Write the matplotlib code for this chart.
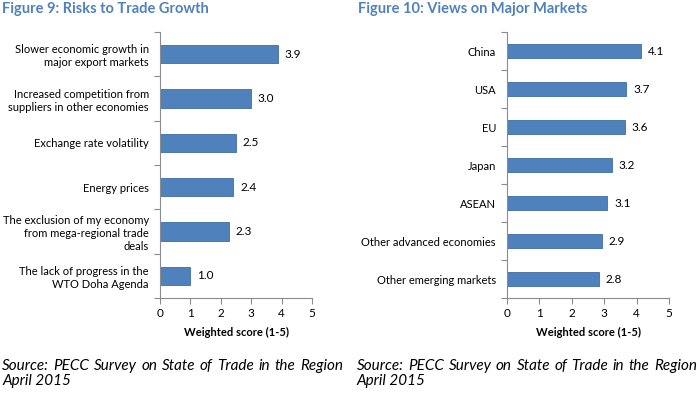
import matplotlib
matplotlib.use('Agg')
import matplotlib.pyplot as plt
import numpy as np

plt.rcParams['font.family'] = ['Lato', 'DejaVu Sans']

# Figure 9 data
risks = ['Slower economic growth in\nmajor export markets',
         'Increased competition from\nsuppliers in other economies',
         'Exchange rate volatility',
         'Energy prices',
         'The exclusion of my economy\nfrom mega-regional trade\ndeals',
         'The lack of progress in the\nWTO Doha Agenda']
risk_scores = [3.87, 2.98, 2.50, 2.41, 2.26, 0.99]

# Figure 10 data
markets = ['China', 'USA', 'EU', 'Japan', 'ASEAN',
           'Other advanced economies', 'Other emerging markets']
market_scores = [4.14, 3.68, 3.64, 3.24, 3.10, 2.93, 2.84]

titles = ['Figure 9: Risks to Trade Growth', 'Figure 10: Views on Major Markets']
source = 'Source: PECC Survey on State of Trade in the Region'
source2 = 'April 2015'
xticks = [0, 1, 2, 3, 4, 5]

W, H = 700, 394
fig = plt.figure(figsize=(W / 100, H / 100), dpi=100)

bar_col = '#4F81BD'
edge_col = '#3F6DA8'
axis_col = '#8C8C8C'
title_col = '#4F81BD'


def hbar(ax, cats, vals, h):
    y = np.arange(len(cats))
    bars = ax.barh(y, vals, height=h, color=bar_col, edgecolor=edge_col, linewidth=0.6)
    ax.set_xlim(0, 5)
    ax.set_ylim(len(cats) - 0.5, -0.5)
    ax.set_yticks(y)
    ax.set_yticklabels(cats, fontsize=8, ha='right', linespacing=1.25)
    ax.set_yticks(np.arange(len(cats) + 1) - 0.5, minor=True)
    ax.tick_params(axis='y', which='major', length=0, pad=8)
    ax.tick_params(axis='y', which='minor', length=4, color=axis_col, width=0.8)
    ax.set_xticks(xticks)
    ax.tick_params(axis='x', length=4, color=axis_col, width=0.8, labelsize=8.5, pad=3)
    for s in ['top', 'right']:
        ax.spines[s].set_visible(False)
    for s in ['left', 'bottom']:
        ax.spines[s].set_color(axis_col)
        ax.spines[s].set_linewidth(0.8)
    ax.bar_label(bars, labels=['%.1f' % v for v in vals], padding=5, fontsize=8.5)
    ax.set_xlabel('Weighted score (1-5)', fontsize=8, fontweight='bold', labelpad=6)


ax1 = fig.add_axes([160 / W, 1 - 298 / H, 152 / W, 266 / H])
hbar(ax1, risks, risk_scores, 0.41)
ax2 = fig.add_axes([507 / W, 1 - 298 / H, 162 / W, 266 / H])
hbar(ax2, markets, market_scores, 0.39)

fig.text(2 / W, 1 - 9 / H, titles[0], fontsize=10.5, fontweight='bold',
         color=title_col, va='center')
fig.text(358 / W, 1 - 9 / H, titles[1], fontsize=10.5, fontweight='bold',
         color=title_col, va='center')

# justified source lines
fig.canvas.draw()
r = fig.canvas.get_renderer()
src_size = 11


def justify(x0, x1, y, text):
    words = text.split(' ')
    objs = [fig.text(0, y, w, fontsize=src_size, style='italic', va='baseline') for w in words]
    widths = [o.get_window_extent(r).width for o in objs]
    gap = max((x1 - x0 - sum(widths)) / (len(words) - 1), 2)
    x = x0
    for o, w in zip(objs, widths):
        o.set_x(x / W)
        x += w + gap


justify(2, 343, 1 - 370 / H, source)
fig.text(2 / W, 1 - 385 / H, source2, fontsize=src_size, style='italic', va='baseline')
justify(357, 697, 1 - 370 / H, source)
fig.text(357 / W, 1 - 385 / H, source2, fontsize=src_size, style='italic', va='baseline')

fig.savefig('out.png', dpi=100)
